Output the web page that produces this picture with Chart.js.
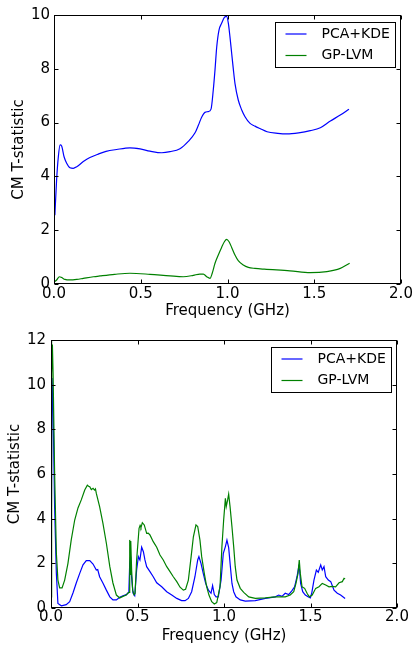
<!DOCTYPE html>
<html>
<head>
<meta charset="utf-8">
<script src="https://cdn.jsdelivr.net/npm/chart.js@4.4.0/dist/chart.umd.min.js"></script>
<style>
  html, body { margin: 0; padding: 0; background: #fff; }
  canvas { display: block; }
</style>
</head>
<body>
<canvas id="topChart" width="414" height="323"></canvas>
<canvas id="bottomChart" width="414" height="324"></canvas>
<script>
// labels
var seriesNames = ['PCA+KDE', 'GP-LVM'];
var xTitle = 'Frequency (GHz)';
var yTitle = 'CM T-statistic';

// top panel, PCA+KDE
var topBlueX = [0.005, 0.015, 0.025, 0.035, 0.044, 0.058, 0.073, 0.092, 0.111, 0.131, 0.169, 0.207, 0.255, 0.30, 0.361, 0.438, 0.496, 0.553, 0.621, 0.669, 0.726, 0.774, 0.813, 0.832, 0.851, 0.87, 0.889, 0.905, 0.918, 0.928, 0.938, 0.951, 0.966, 0.982, 0.995, 1.005, 1.014, 1.024, 1.034, 1.043, 1.062, 1.082, 1.101, 1.13, 1.158, 1.187, 1.228, 1.29, 1.343, 1.41, 1.477, 1.535, 1.593, 1.65, 1.70];
var topBlueY = [2.56, 3.87, 4.73, 5.17, 5.13, 4.73, 4.49, 4.32, 4.30, 4.36, 4.55, 4.70, 4.83, 4.93, 5.00, 5.06, 5.02, 4.94, 4.88, 4.92, 5.03, 5.30, 5.62, 5.90, 6.20, 6.38, 6.41, 6.50, 7.21, 7.96, 8.82, 9.44, 9.69, 9.91, 9.95, 9.69, 9.20, 8.58, 7.96, 7.46, 6.84, 6.47, 6.22, 5.97, 5.87, 5.78, 5.66, 5.60, 5.58, 5.62, 5.70, 5.81, 6.06, 6.28, 6.50];

// top panel, GP-LVM
var topGreenX = [0.005, 0.015, 0.031, 0.044, 0.063, 0.092, 0.131, 0.169, 0.227, 0.265, 0.35, 0.438, 0.553, 0.669, 0.745, 0.803, 0.841, 0.861, 0.88, 0.899, 0.912, 0.928, 0.947, 0.966, 0.982, 0.995, 1.009, 1.024, 1.043, 1.062, 1.091, 1.12, 1.158, 1.212, 1.36, 1.477, 1.573, 1.65, 1.704];
var topGreenY = [0.09, 0.15, 0.27, 0.24, 0.17, 0.15, 0.17, 0.21, 0.27, 0.30, 0.36, 0.40, 0.36, 0.30, 0.27, 0.32, 0.37, 0.37, 0.27, 0.21, 0.40, 0.77, 1.08, 1.36, 1.57, 1.66, 1.57, 1.36, 1.08, 0.87, 0.71, 0.62, 0.58, 0.55, 0.49, 0.42, 0.46, 0.58, 0.77];

// bottom panel, PCA+KDE
var botBlueX = [0.0, 0.006, 0.012, 0.021, 0.031, 0.040, 0.06, 0.088, 0.108, 0.127, 0.146, 0.166, 0.185, 0.204, 0.224, 0.243, 0.262, 0.27, 0.281, 0.30, 0.32, 0.34, 0.358, 0.378, 0.397, 0.416, 0.435, 0.445, 0.450, 0.455, 0.46, 0.464, 0.474, 0.484, 0.495, 0.505, 0.514, 0.524, 0.534, 0.543, 0.553, 0.572, 0.591, 0.611, 0.64, 0.669, 0.698, 0.727, 0.755, 0.775, 0.794, 0.813, 0.832, 0.848, 0.855, 0.867, 0.88, 0.894, 0.91, 0.925, 0.934, 0.944, 0.954, 0.967, 0.983, 0.996, 1.008, 1.017, 1.027, 1.037, 1.046, 1.056, 1.069, 1.094, 1.123, 1.181, 1.239, 1.297, 1.316, 1.335, 1.354, 1.374, 1.393, 1.408, 1.422, 1.432, 1.437, 1.443, 1.455, 1.47, 1.486, 1.499, 1.507, 1.52, 1.534, 1.545, 1.559, 1.568, 1.578, 1.588, 1.603, 1.617, 1.636, 1.655, 1.674, 1.70];
var botBlueY = [0.3, 10.3, 9.0, 4.5, 1.55, 0.2, 0.1, 0.15, 0.28, 0.67, 1.12, 1.55, 1.93, 2.12, 2.12, 1.97, 1.7, 1.72, 1.4, 1.12, 0.8, 0.5, 0.36, 0.36, 0.48, 0.55, 0.6, 0.67, 0.7, 2.0, 2.3, 1.55, 0.67, 0.55, 1.7, 2.3, 2.15, 2.72, 2.52, 2.15, 1.85, 1.63, 1.4, 1.13, 0.95, 0.73, 0.58, 0.43, 0.33, 0.33, 0.43, 0.73, 1.4, 2.15, 2.3, 2.0, 1.55, 1.1, 0.8, 0.66, 1.0, 0.6, 0.5, 0.5, 1.25, 2.45, 2.75, 3.04, 2.7, 1.85, 1.1, 0.73, 0.5, 0.36, 0.31, 0.33, 0.43, 0.5, 0.58, 0.52, 0.66, 0.6, 0.78, 0.95, 1.4, 1.85, 1.7, 1.1, 0.73, 0.58, 0.5, 0.45, 0.66, 1.25, 1.7, 1.6, 1.93, 1.7, 1.85, 1.4, 1.25, 1.18, 0.8, 0.66, 0.58, 0.43];

// bottom panel, GP-LVM
var botGreenX = [0.0, 0.002, 0.005, 0.008, 0.012, 0.021, 0.031, 0.040, 0.05, 0.064, 0.079, 0.098, 0.117, 0.137, 0.156, 0.175, 0.195, 0.21, 0.217, 0.224, 0.233, 0.243, 0.252, 0.257, 0.262, 0.281, 0.30, 0.32, 0.34, 0.358, 0.378, 0.397, 0.416, 0.435, 0.445, 0.452, 0.455, 0.458, 0.461, 0.466, 0.472, 0.48, 0.486, 0.495, 0.509, 0.515, 0.52, 0.528, 0.539, 0.553, 0.562, 0.572, 0.591, 0.611, 0.63, 0.649, 0.669, 0.688, 0.707, 0.727, 0.746, 0.765, 0.778, 0.794, 0.81, 0.823, 0.838, 0.848, 0.861, 0.871, 0.886, 0.9, 0.913, 0.929, 0.944, 0.958, 0.977, 0.988, 0.998, 1.008, 1.013, 1.021, 1.027, 1.035, 1.046, 1.056, 1.065, 1.075, 1.094, 1.114, 1.143, 1.181, 1.239, 1.297, 1.354, 1.383, 1.403, 1.416, 1.428, 1.435, 1.441, 1.451, 1.466, 1.48, 1.493, 1.51, 1.53, 1.549, 1.568, 1.588, 1.607, 1.626, 1.645, 1.665, 1.684, 1.694, 1.70];
var botGreenY = [0.5, 12.0, 10.5, 11.8, 10.5, 6.0, 2.45, 1.25, 0.9, 0.9, 1.25, 2.0, 3.05, 3.94, 4.48, 4.84, 5.28, 5.5, 5.45, 5.43, 5.3, 5.36, 5.28, 5.33, 5.13, 4.54, 3.8, 2.9, 1.85, 1.12, 0.58, 0.45, 0.52, 0.58, 0.67, 0.7, 3.05, 1.5, 3.0, 1.7, 0.8, 0.6, 0.66, 2.15, 3.57, 3.7, 3.6, 3.82, 3.72, 3.34, 3.35, 3.27, 2.97, 2.72, 2.37, 2.15, 1.85, 1.63, 1.4, 1.18, 0.93, 0.8, 0.84, 1.25, 2.3, 3.19, 3.72, 3.65, 3.04, 2.3, 1.55, 0.95, 0.58, 0.28, 0.18, 0.24, 0.95, 2.75, 3.94, 4.91, 4.54, 4.84, 5.1, 4.54, 3.64, 2.75, 1.85, 1.25, 0.88, 0.7, 0.5, 0.43, 0.45, 0.5, 0.5, 0.58, 0.73, 1.1, 1.55, 2.15, 1.55, 0.95, 0.88, 0.66, 0.5, 0.58, 0.88, 0.95, 1.1, 1.03, 0.95, 0.97, 0.95, 1.13, 1.18, 1.33, 1.3];

var blue = '#0000ff';
var green = '#008000';
var font = 'DejaVu Sans';

function toPoints(xs, ys) {
    return xs.map(function (x, i) { return { x: x, y: ys[i] }; });
}

// frame, inward ticks on all four sides, and the legend box inside the plot
var framePlugin = {
    id: 'framePlugin',
    afterDatasetsDraw: function (chart) {
        var ctx = chart.ctx, a = chart.chartArea;
        var xs = chart.scales.x, ys = chart.scales.y;
        var L = Math.round(a.left) + 0.5, R = Math.round(a.right) - 0.5;
        var T = Math.round(a.top) + 0.5, B = Math.round(a.bottom) - 0.5;
        var tl = 4;
        ctx.save();
        ctx.strokeStyle = '#000';
        ctx.lineWidth = 1;
        ctx.beginPath();
        xs.ticks.forEach(function (t) {
            var p = Math.round(xs.getPixelForValue(t.value)) + 0.5;
            ctx.moveTo(p, B); ctx.lineTo(p, B - tl);
            ctx.moveTo(p, T); ctx.lineTo(p, T + tl);
        });
        ys.ticks.forEach(function (t) {
            var p = Math.round(ys.getPixelForValue(t.value)) + 0.5;
            ctx.moveTo(L, p); ctx.lineTo(L + tl, p);
            ctx.moveTo(R, p); ctx.lineTo(R - tl, p);
        });
        ctx.stroke();
        ctx.strokeRect(L, T, R - L, B - T);

        // legend
        var bx = Math.round(a.right) - 126 + 0.5, by = Math.round(a.top) + 7 + 0.5;
        ctx.fillStyle = '#fff';
        ctx.fillRect(bx, by, 120, 45);
        ctx.strokeStyle = '#000';
        ctx.strokeRect(bx, by, 120, 45);
        ctx.font = '14px "' + font + '"';
        ctx.textBaseline = 'middle';
        ctx.textAlign = 'left';
        chart.data.datasets.forEach(function (ds, i) {
            var ly = by + 11.5 + i * 21.5;
            ctx.strokeStyle = ds.borderColor;
            ctx.lineWidth = 1.2;
            ctx.beginPath();
            ctx.moveTo(bx + 10, ly); ctx.lineTo(bx + 31, ly);
            ctx.stroke();
            ctx.fillStyle = '#000';
            ctx.fillText(ds.label, bx + 46, ly);
        });
        ctx.restore();
    }
};

function makeChart(id, blueData, greenData, cfg) {
    return new Chart(document.getElementById(id), {
        type: 'line',
        data: {
            datasets: [
                {
                    label: seriesNames[0],
                    data: blueData,
                    borderColor: blue,
                    borderWidth: 1.2,
                    pointRadius: 0,
                    fill: false,
                    order: 1,
                    cubicInterpolationMode: cfg.smooth ? 'monotone' : 'default',
                    tension: 0
                },
                {
                    label: seriesNames[1],
                    data: greenData,
                    borderColor: green,
                    borderWidth: 1.2,
                    pointRadius: 0,
                    fill: false,
                    order: 0,
                    cubicInterpolationMode: cfg.smooth ? 'monotone' : 'default',
                    tension: 0
                }
            ]
        },
        options: {
            responsive: false,
            animation: false,
            events: [],
            layout: { padding: { top: cfg.top, right: cfg.right, left: 0, bottom: 0 } },
            plugins: { legend: { display: false }, tooltip: { enabled: false } },
            scales: {
                x: {
                    type: 'linear',
                    min: 0,
                    max: 2,
                    grid: { display: false, drawTicks: false },
                    border: { display: false },
                    ticks: {
                        stepSize: 0.5,
                        padding: cfg.xTickPad,
                        color: '#000',
                        maxRotation: 0,
                        font: { family: font, size: 15 },
                        callback: function (v) { return v.toFixed(1); }
                    },
                    title: {
                        display: true,
                        text: xTitle,
                        color: '#000',
                        font: { family: font, size: 15 },
                        padding: { top: 0, bottom: cfg.xTitlePad }
                    },
                    afterFit: function (s) { s.height = 39; s.paddingLeft = 0; s.paddingRight = 0; }
                },
                y: {
                    min: 0,
                    max: cfg.yMax,
                    grid: { display: false, drawTicks: false },
                    border: { display: false },
                    ticks: {
                        stepSize: 2,
                        padding: cfg.yTickPad,
                        color: '#000',
                        font: { family: font, size: 15 }
                    },
                    title: {
                        display: true,
                        text: yTitle,
                        color: '#000',
                        font: { family: font, size: 15 },
                        padding: { top: cfg.yTitlePad, bottom: 0 }
                    },
                    afterFit: function (s) { s.width = cfg.left; s.paddingTop = 0; s.paddingBottom = 0; }
                }
            }
        },
        plugins: [framePlugin]
    });
}

makeChart('topChart', toPoints(topBlueX, topBlueY), toPoints(topGreenX, topGreenY), {
    smooth: true, top: 15, right: 13, left: 54, yMax: 10,
    xTickPad: 1, xTitlePad: 3, yTickPad: 4, yTitlePad: 10
});

makeChart('bottomChart', toPoints(botBlueX, botBlueY), toPoints(botGreenX, botGreenY), {
    smooth: false, top: 17, right: 17, left: 51, yMax: 12,
    xTickPad: 0, xTitlePad: 2, yTickPad: 5, yTitlePad: 6
});
</script>
</body>
</html>
